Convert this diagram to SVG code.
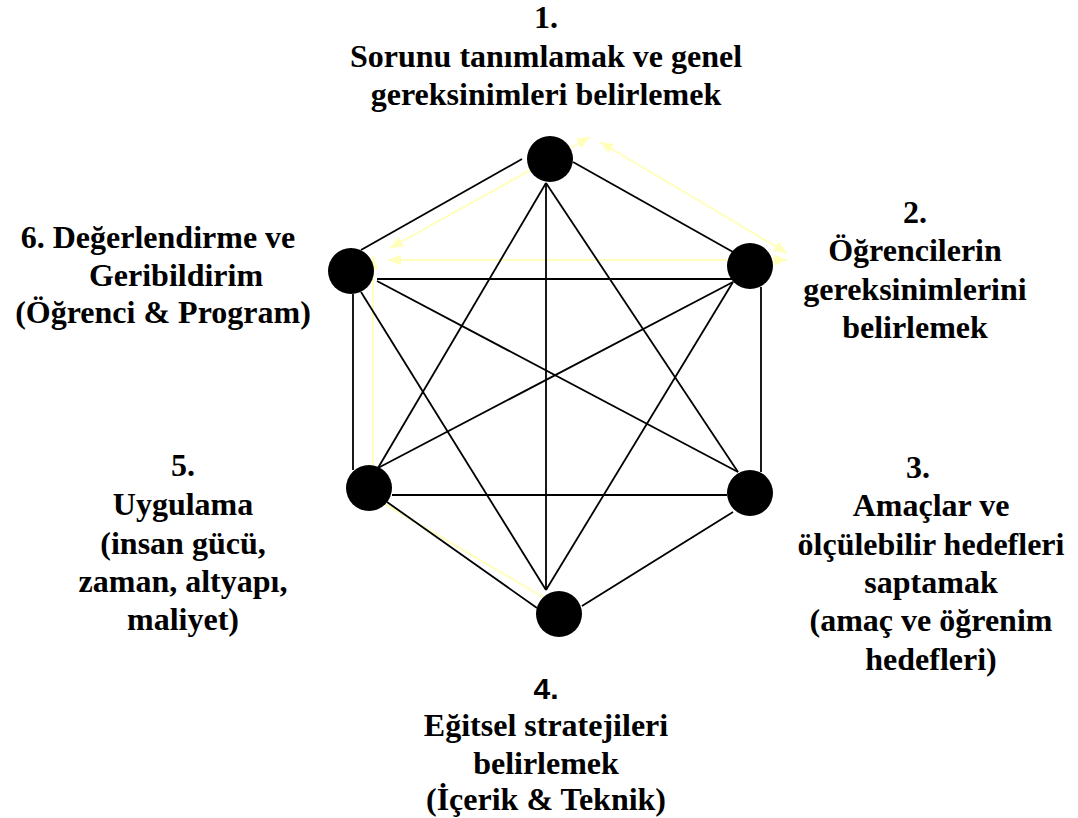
<svg xmlns="http://www.w3.org/2000/svg" width="1078" height="818" viewBox="0 0 1078 818">
<style>
.t{font-family:"Liberation Serif","Times New Roman",serif;font-weight:bold;font-size:32px;fill:#000;text-anchor:middle}
.s{font-family:"Liberation Sans",Arial,sans-serif;font-weight:bold;font-size:30px;fill:#000;text-anchor:middle}
.e{stroke:#000;stroke-width:1.8;fill:none}
.y{stroke:#ffffbb;stroke-width:2;fill:none}
.n{fill:#000}
</style>
<defs>
<marker id="ah" viewBox="0 0 12 10" refX="12" refY="5" markerWidth="13" markerHeight="11" markerUnits="userSpaceOnUse" orient="auto-start-reverse">
<path d="M0,0 L12,5 L0,10 z" fill="#ffffbb"/>
</marker>
</defs>
<rect width="1078" height="818" fill="#fff"/>
<g id="cycle">
<line class="y" x1="390" y1="248" x2="590" y2="137" marker-start="url(#ah)" marker-end="url(#ah)"/>
<line class="y" x1="600" y1="142" x2="787" y2="253" marker-start="url(#ah)" marker-end="url(#ah)"/>
<line class="y" x1="388" y1="260" x2="787" y2="260" marker-start="url(#ah)" marker-end="url(#ah)"/>
<line class="y" x1="373" y1="470" x2="373" y2="256" marker-end="url(#ah)"/>
<line class="y" x1="383" y1="503" x2="543" y2="597"/>
</g>
<g id="connectors">
<line class="e" x1="361" y1="250" x2="522" y2="159"/>
<line class="e" x1="573" y1="162" x2="733" y2="252"/>
<line class="e" x1="546" y1="183" x2="546" y2="590"/>
<line class="e" x1="546" y1="183" x2="378" y2="468"/>
<line class="e" x1="546" y1="183" x2="738" y2="472"/>
<line class="e" x1="377" y1="279" x2="733" y2="279"/>
<line class="e" x1="761" y1="287" x2="761" y2="472"/>
<line class="e" x1="733" y1="282" x2="378" y2="468"/>
<line class="e" x1="733" y1="282" x2="546" y2="590"/>
<line class="e" x1="377" y1="281" x2="738" y2="472"/>
<line class="e" x1="361" y1="292" x2="546" y2="590"/>
<line class="e" x1="353" y1="294" x2="353" y2="470"/>
<line class="e" x1="392" y1="495" x2="727" y2="495"/>
<line class="e" x1="387" y1="502" x2="537" y2="608"/>
<line class="e" x1="733" y1="512" x2="582" y2="606"/>
</g>
<g id="node1">
<circle class="n" cx="550" cy="159" r="23"/>
<text class="t" x="546" y="28">1.</text>
<text class="t" x="546" y="67">Sorunu tanımlamak ve genel</text>
<text class="t" x="546" y="105">gereksinimleri belirlemek</text>
</g>
<g id="node2">
<circle class="n" cx="750" cy="266" r="23"/>
<text class="t" x="915" y="223">2.</text>
<text class="t" x="915" y="261">Öğrencilerin</text>
<text class="t" x="915" y="300">gereksinimlerini</text>
<text class="t" x="915" y="338">belirlemek</text>
</g>
<g id="node3">
<circle class="n" cx="750" cy="493" r="23"/>
<text class="t" x="918" y="478">3.</text>
<text class="t" x="931" y="516">Amaçlar ve</text>
<text class="t" x="931" y="555">ölçülebilir hedefleri</text>
<text class="t" x="931" y="593">saptamak</text>
<text class="t" x="931" y="631">(amaç ve öğrenim</text>
<text class="t" x="931" y="670">hedefleri)</text>
</g>
<g id="node4">
<circle class="n" cx="559" cy="614" r="23"/>
<text class="s" x="546" y="699">4.</text>
<text class="t" x="546" y="736">Eğitsel stratejileri</text>
<text class="t" x="546" y="774">belirlemek</text>
<text class="t" x="546" y="810">(İçerik &amp; Teknik)</text>
</g>
<g id="node5">
<circle class="n" cx="369" cy="488" r="23"/>
<text class="t" x="183" y="476">5.</text>
<text class="t" x="183" y="515">Uygulama</text>
<text class="t" x="183" y="554">(insan gücü,</text>
<text class="t" x="183" y="592">zaman, altyapı,</text>
<text class="t" x="183" y="630">maliyet)</text>
</g>
<g id="node6">
<circle class="n" cx="351" cy="271" r="23"/>
<text class="t" x="158" y="248">6. Değerlendirme ve</text>
<text class="t" x="176" y="286">Geribildirim</text>
<text class="t" x="163" y="323">(Öğrenci &amp; Program)</text>
</g>
</svg>
